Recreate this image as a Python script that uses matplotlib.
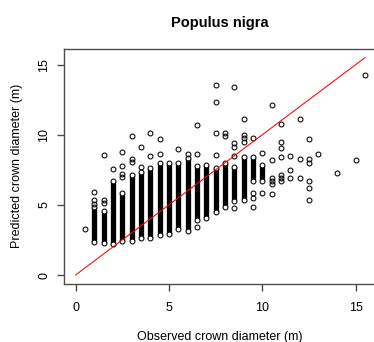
import matplotlib.pyplot as plt

# columns of observed diameter (0.5 m classes) where the circles pile into a solid bar
bar_x = [1.0, 1.5, 2.0, 2.5, 3.0, 3.5, 4.0, 4.5, 5.0, 5.5, 6.0, 6.5, 7.0, 7.5, 8.0, 8.5, 9.0, 9.5, 10.0]
bar_lo = [2.38, 2.26, 2.21, 2.40, 2.40, 2.62, 2.62, 2.86, 2.90, 3.26, 3.14, 3.93, 4.10, 4.52, 4.83, 5.30, 5.36, 6.67, 6.67]
bar_hi = [4.83, 4.60, 6.67, 5.88, 7.14, 7.38, 7.62, 7.98, 7.98, 7.98, 8.33, 7.74, 7.86, 7.62, 7.98, 7.70, 8.45, 8.45, 7.86]

# single circles outside the solid bars
loose_x = [0.5,
           1.0, 1.0, 1.0,
           1.5, 1.5, 1.5,
           2.0,
           2.5, 2.5, 2.5, 2.5,
           3.0, 3.0, 3.0,
           3.5, 3.5,
           4.0, 4.0,
           4.5, 4.5,
           5.5,
           6.0,
           6.5, 6.5, 6.5,
           7.5, 7.5, 7.5, 7.5,
           8.0, 8.0,
           8.5, 8.5, 8.5, 8.5, 8.5,
           9.0, 9.0, 9.0, 9.0,
           9.5, 9.5, 9.5, 9.5,
           10.0, 10.0,
           10.5, 10.5, 10.5, 10.5, 10.5, 10.5,
           11.0, 11.0, 11.0, 11.0, 11.0, 11.0, 11.0,
           11.5, 11.5, 11.5,
           12.0, 12.0, 12.0,
           12.5, 12.5, 12.5, 12.5, 12.5, 12.5,
           13.0, 14.0, 15.0, 15.5]
loose_y = [3.31,
           5.10, 5.36, 5.95,
           5.17, 5.36, 8.58,
           7.57,
           6.98, 7.19, 7.81, 8.78,
           8.05, 8.26, 9.95,
           7.67, 9.14,
           8.50, 10.12,
           8.60, 9.70,
           8.98,
           8.60,
           3.45, 8.60, 10.67,
           8.53, 10.12, 12.31, 13.55,
           9.88, 10.12,
           4.76, 8.50, 9.10, 9.40, 13.38,
           9.50, 9.76, 10.00, 11.14,
           4.88, 5.50, 5.83, 9.76,
           5.83, 8.69,
           5.79, 6.50, 6.70, 6.90, 8.21, 12.14,
           6.67, 6.90, 7.14, 8.45, 9.07, 9.50, 10.76,
           6.95, 7.50, 8.52,
           6.93, 8.29, 11.14,
           5.36, 6.19, 6.74, 7.98, 8.29, 9.69,
           8.62, 7.31, 8.21, 14.29]

line_x = [0, 15.5]
line_y = [0, 15.5]

fig = plt.figure(figsize=(3.74, 3.42), dpi=100)
ax = fig.add_axes([64 / 374, 58.3 / 342, 312.5 / 374, 234.7 / 342])

ax.vlines(bar_x, bar_lo, bar_hi, colors='black', linewidth=3.8, capstyle='butt', zorder=2)
ax.plot(bar_x + bar_x, bar_lo + bar_hi, 'o', ms=3.5, mew=0.75, mec='black', mfc='white', zorder=3)
ax.plot(loose_x, loose_y, 'o', ms=3.5, mew=0.75, mec='black', mfc='none', zorder=3)
ax.plot(line_x, line_y, color='#ff0000', linewidth=0.75, zorder=4)

ax.set_xlim(-0.62, 16.12)
ax.set_ylim(-0.62, 16.12)
ax.set_xticks([0, 5, 10, 15])
ax.set_yticks([0, 5, 10, 15])

for s in ax.spines.values():
    s.set_color('#4d4d4d')
    s.set_linewidth(1.0)
ax.tick_params(length=5, width=1.0, color='#4d4d4d', labelsize=9, labelcolor='black')
ax.tick_params(axis='x', pad=8)
ax.tick_params(axis='y', pad=5, labelrotation=90)
for lab in ax.get_yticklabels():
    lab.set_va('center')

ax.set_title('Populus nigra', fontsize=10.5, fontweight='bold', family='Liberation Sans', pad=15.8)
ax.set_xlabel('Observed crown diameter (m)', fontsize=9, family='Liberation Sans')
ax.set_ylabel('Predicted crown diameter (m)', fontsize=9, family='Liberation Sans')
ax.xaxis.set_label_coords(0.5, -0.225)
ax.xaxis.label.set_va('center')
ax.yaxis.set_label_coords(-0.151, 0.5)
ax.yaxis.label.set_va('center')
for lab in ax.get_xticklabels() + ax.get_yticklabels():
    lab.set_family('Liberation Sans')

plt.savefig('out.png', dpi=100)
